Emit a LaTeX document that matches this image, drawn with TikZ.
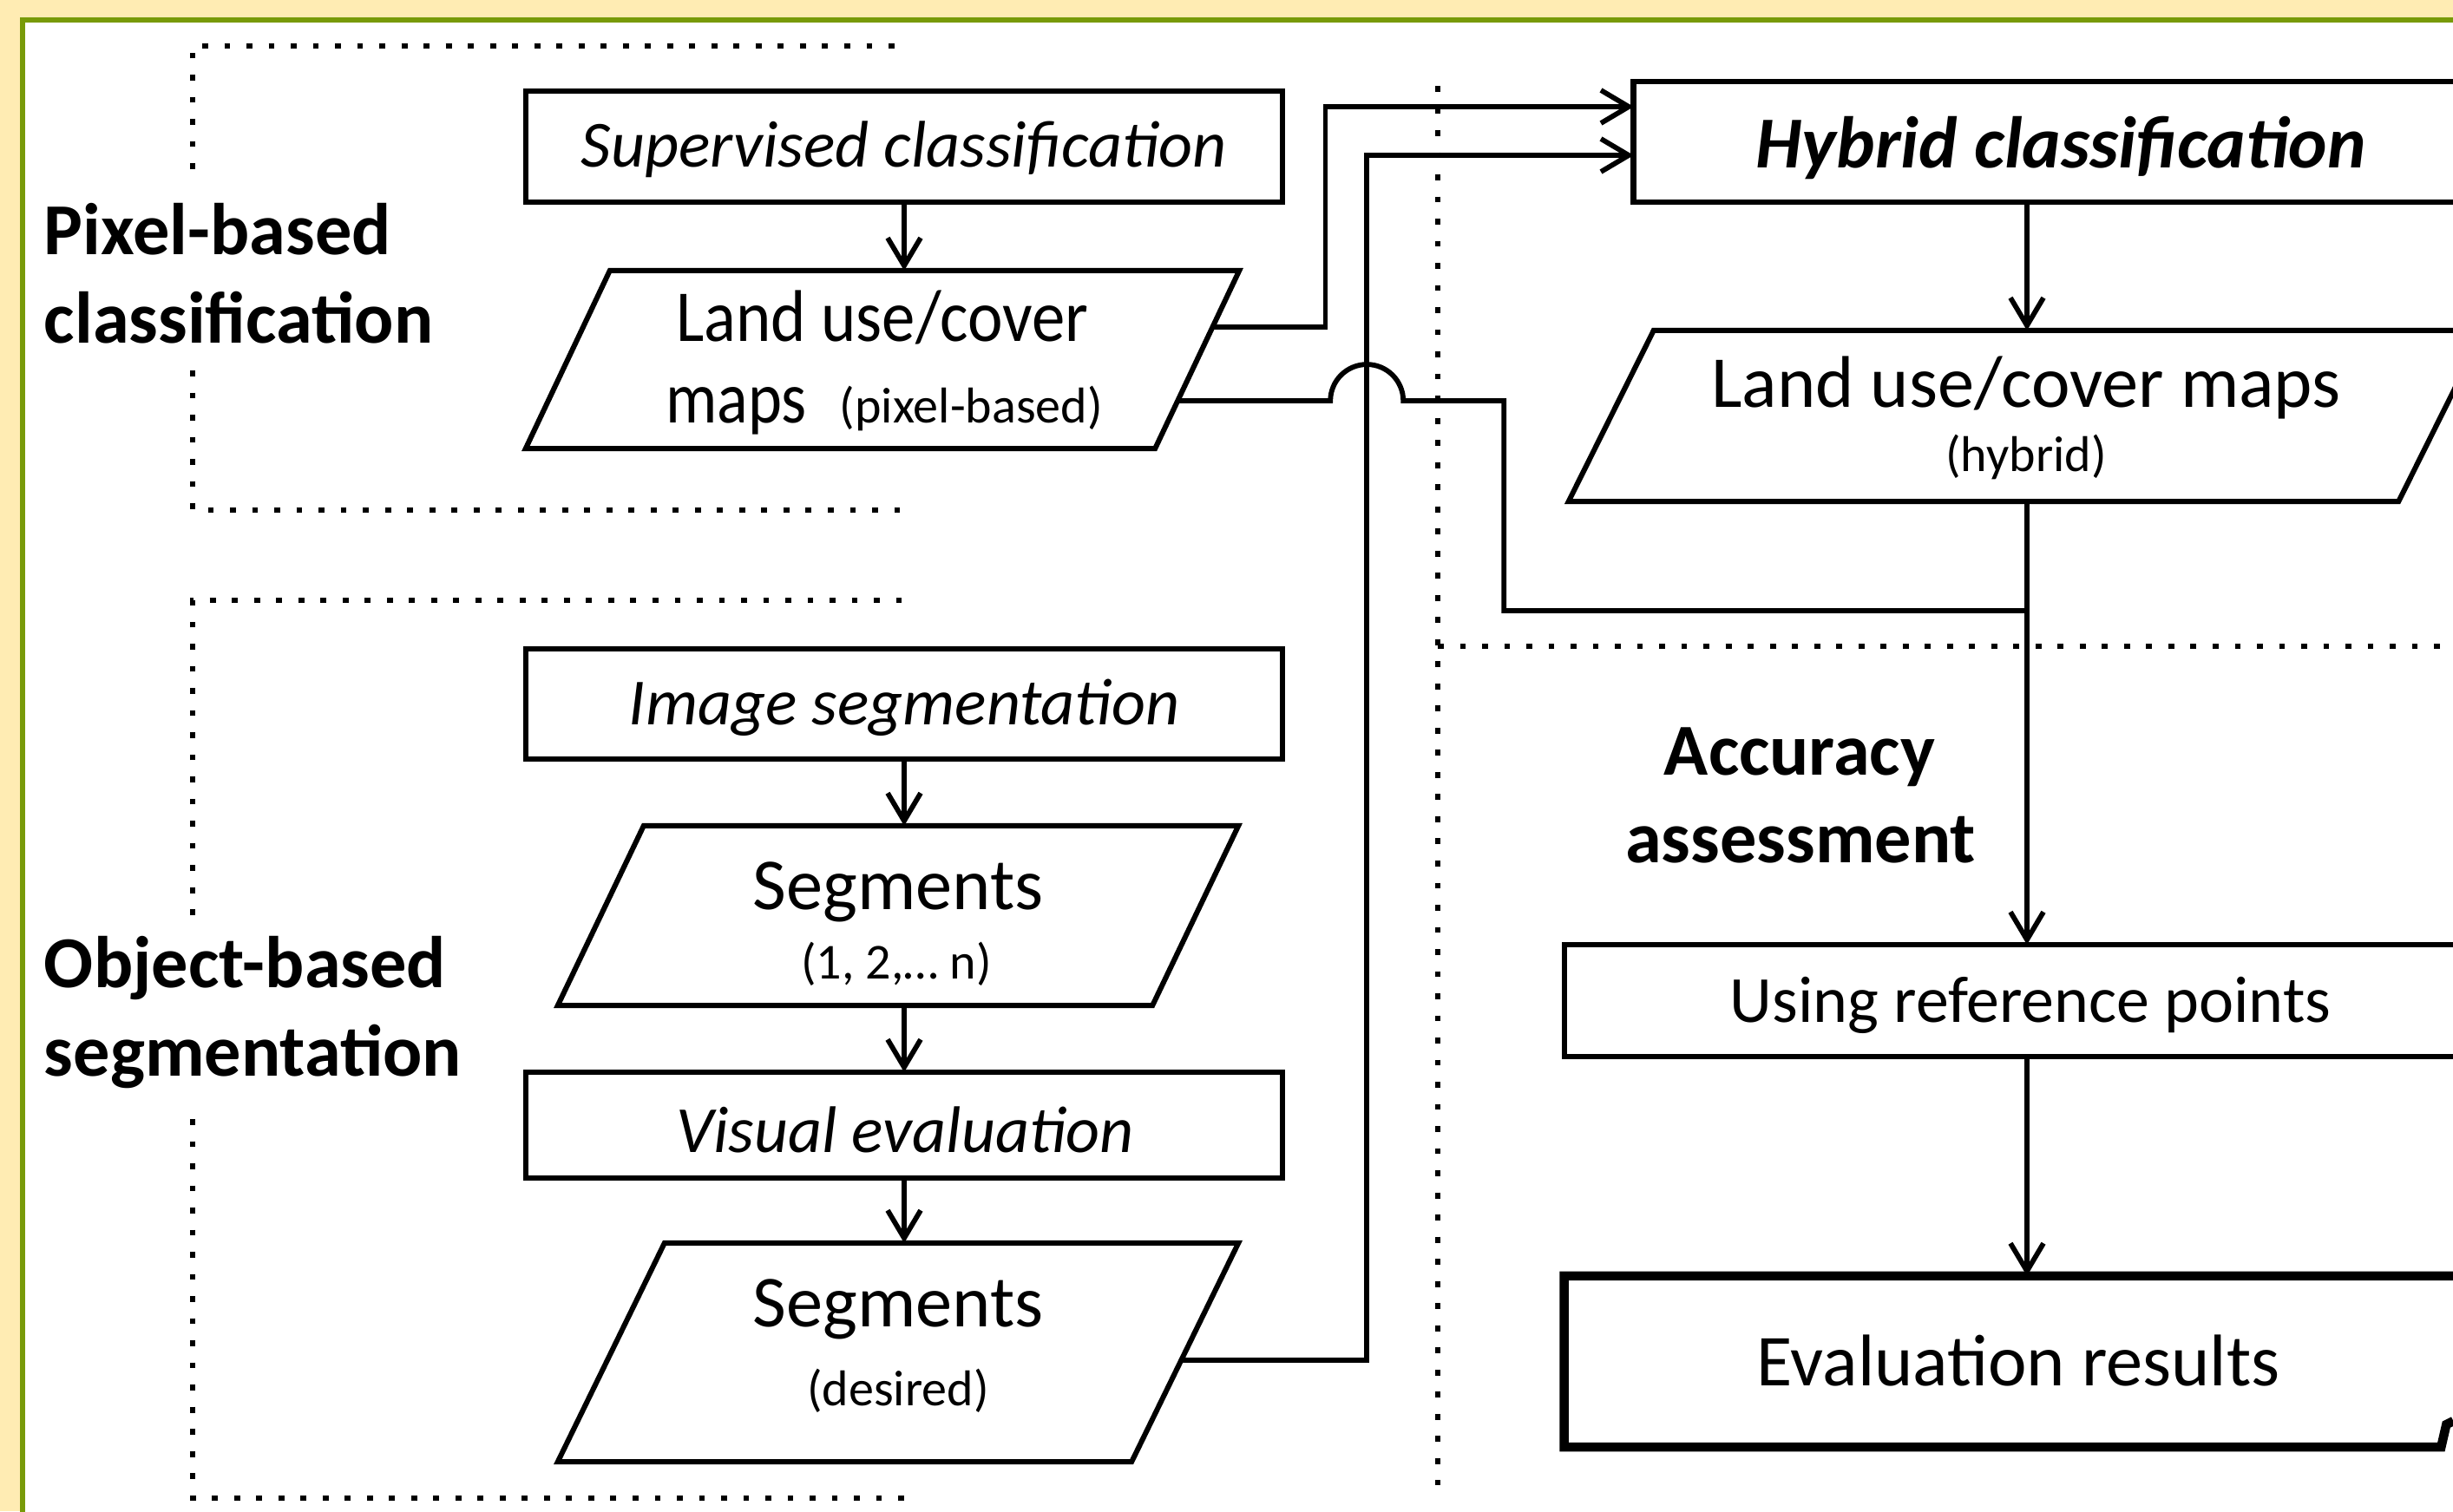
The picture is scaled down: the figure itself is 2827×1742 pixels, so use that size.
\documentclass[tikz,border=0pt]{standalone}
\usepackage{fontspec}
\setmainfont{Carlito}
\usetikzlibrary{arrows.meta,calc}

\definecolor{paper}{RGB}{255,236,179}
\definecolor{framegreen}{RGB}{120,154,8}

\newcommand{\fsMain}{\fontsize{24pt}{29pt}\selectfont}
\newcommand{\fsSub}{\fontsize{16.5pt}{20pt}\selectfont}
\newcommand{\fsIt}{\fontsize{21.6pt}{26pt}\selectfont\itshape}

% parallelogram outline around a rectangular node: #1 node name, #2 half of the slant
\newcommand{\slantframe}[2]{%
  \coordinate (#1-tl) at ($(#1.north west)+(#2,0)$);
  \coordinate (#1-tr) at ($(#1.north east)+(#2,0)$);
  \coordinate (#1-br) at ($(#1.south east)+(-#2,0)$);
  \coordinate (#1-bl) at ($(#1.south west)+(-#2,0)$);
  \draw[edge] (#1-tl) -- (#1-tr) -- (#1-br) -- (#1-bl) -- cycle;}

\begin{document}
\begin{tikzpicture}[x=0.01cm, y=-0.01cm,
  edge/.style={line width=0.06cm},
  conn/.style={line width=0.058cm},
  boxnode/.style={draw, line width=0.06cm, inner sep=0pt, outer sep=0pt},
  plainnode/.style={inner sep=0pt, outer sep=0pt},
  lbl/.style={inner sep=0pt, outer sep=0pt, anchor=base},
  dotline/.style={line width=0.068cm, dash pattern=on 0.068cm off 0.187cm},
  >={Straight Barb[length=0.32cm,width=0.38cm]}
]
\useasboundingbox (0,0) rectangle (2827,1742);
\clip (0,0) rectangle (2827,1742);

% page background and framed panel
\fill[paper] (0,0) rectangle (2827,1742);
\filldraw[fill=white, draw=framegreen, line width=0.065cm] (26,23) rectangle (2950,1850);

% dotted group outlines
\draw[dotline] (222,195) -- (222,53) -- (1042,53);
\draw[dotline] (222,427) -- (222,588) -- (1042,588);
\draw[dotline] (222,1055) -- (222,692) -- (1042,692);
\draw[dotline] (222,1290) -- (222,1727) -- (1042,1727);
\draw[dotline] (1657,99) -- (1657,1712);
\draw[dotline] (1657,745) -- (2827,745);

% group labels
\node[lbl, anchor=base west] (pixA) at (51,293) {\fsMain\bfseries Pixel-based};
\node[lbl, anchor=base west] (pixB) at (51,395) {\fsMain\bfseries classification};
\node[lbl, anchor=base west] (objA) at (51,1138) {\fsMain\bfseries Object-based};
\node[lbl, anchor=base west] (objB) at (51,1240) {\fsMain\bfseries segmentation};
\node[lbl] (accA) at (2074,893) {\fsMain\bfseries Accuracy};
\node[lbl] (accB) at (2075,994) {\fsMain\bfseries assessment};

% left column
\node[boxnode, minimum width=8.72cm, minimum height=1.28cm] (sup) at (1042,169) {};
\node[lbl] (supT) at (1042,192) {\fsIt Supervised classification};

\node[plainnode, minimum width=7.25cm, minimum height=2.05cm] (lup) at (1017,414.5) {};
\slantframe{lup}{48.5}
\node[lbl] (lupA) at (1017,393) {\fsMain\scalebox{0.91}[1]{Land use/cover}};
\node[lbl] (lupB) at (1019,487) {\fsMain\scalebox{0.88}[1]{maps}\hspace{0.45em}{\fsSub (pixel-based)}};

\node[boxnode, minimum width=8.72cm, minimum height=1.27cm] (img) at (1042,811.5) {};
\node[lbl] (imgT) at (1042,835) {\fsIt Image segmentation};

\node[plainnode, minimum width=6.85cm, minimum height=2.07cm] (seg1) at (1035,1055.5) {};
\slantframe{seg1}{49.5}
\node[lbl] (seg1A) at (1035,1048) {\fsMain Segments};
\node[lbl] (seg1B) at (1033,1128) {\fsSub (1, 2,… n)};

\node[boxnode, minimum width=8.72cm, minimum height=1.22cm] (vis) at (1042,1297) {};
\node[lbl] (visT) at (1043,1328) {\fsIt Visual evaluation};

\node[plainnode, minimum width=6.61cm, minimum height=2.52cm] (seg2) at (1035,1559) {};
\slantframe{seg2}{61.5}
\node[lbl] (seg2A) at (1035,1529) {\fsMain Segments};
\node[lbl] (seg2B) at (1035,1620) {\fsSub (desired)};

% right column
\node[boxnode, line width=0.068cm, minimum width=9.84cm, minimum height=1.39cm] (hyb) at (2375,163.5) {};
\node[lbl] (hybT) at (2375,193) {\fsMain\bfseries\itshape Hybrid classification};

\node[plainnode, minimum width=9.56cm, minimum height=1.97cm] (luh) at (2335,479.5) {};
\slantframe{luh}{49}
\node[lbl] (luhA) at (2335,469) {\fsMain Land use/cover maps};
\node[lbl] (luhB) at (2335,543) {\fsSub (hybrid)};

\node[boxnode, minimum width=10.74cm, minimum height=1.29cm] (usr) at (2340,1153.5) {};
\node[lbl] (usrT) at (2340,1178) {\fontsize{21.6pt}{26pt}\selectfont Using reference points};

\node[plainnode, minimum width=10.46cm, minimum height=1.97cm] (evr) at (2326,1569.5) {};
\draw[line width=0.105cm] (evr.north east) -- (evr.north west) -- (evr.south west)
  -- ($(evr.south east)+(-36,0)$) -- ++(6,-26) -- ++(8,-4);
\node[lbl] (evrT) at (2326,1597) {\fsMain Evaluation results};

% connector end points
\coordinate (lupOutA) at ($(lup-tr)!0.317!(lup-br)$);
\coordinate (lupOutB) at ($(lup-tr)!0.732!(lup-br)$);
\coordinate (segOut) at ($(seg2-tr)!0.536!(seg2-br)$);
\coordinate (hybInA) at ($(hyb.west)+(0,-40.5)$);
\coordinate (hybInB) at ($(hyb.west)+(0,15.5)$);
\coordinate (rcol) at (2336,0);
\coordinate (joinPt) at (2336,704);

% connectors
\draw[conn,->] (sup.south) -- (sup.south |- lup.north);
\draw[conn,->] (img.south) -- (img.south |- seg1.north);
\draw[conn,->] (vis.north |- seg1.south) -- (vis.north);
\draw[conn,->] (vis.south) -- (vis.south |- seg2.north);
\draw[conn,->] (lupOutA) -- ++(130,0) |- (hybInA);
\draw[conn,->] (segOut) -- ++(214,0) |- (hybInB);
\draw[conn] (lupOutB) -- ++(176,0) arc[start angle=180, end angle=360, radius=42]
  -- ++(116,0) |- (joinPt);
\draw[conn,->] (rcol |- hyb.south) -- (rcol |- luh.north);
\draw[conn,->] (rcol |- luh.south) -- (rcol |- usr.north);
\draw[conn,->] (rcol |- usr.south) -- (rcol |- evr.north);
\end{tikzpicture}
\end{document}
